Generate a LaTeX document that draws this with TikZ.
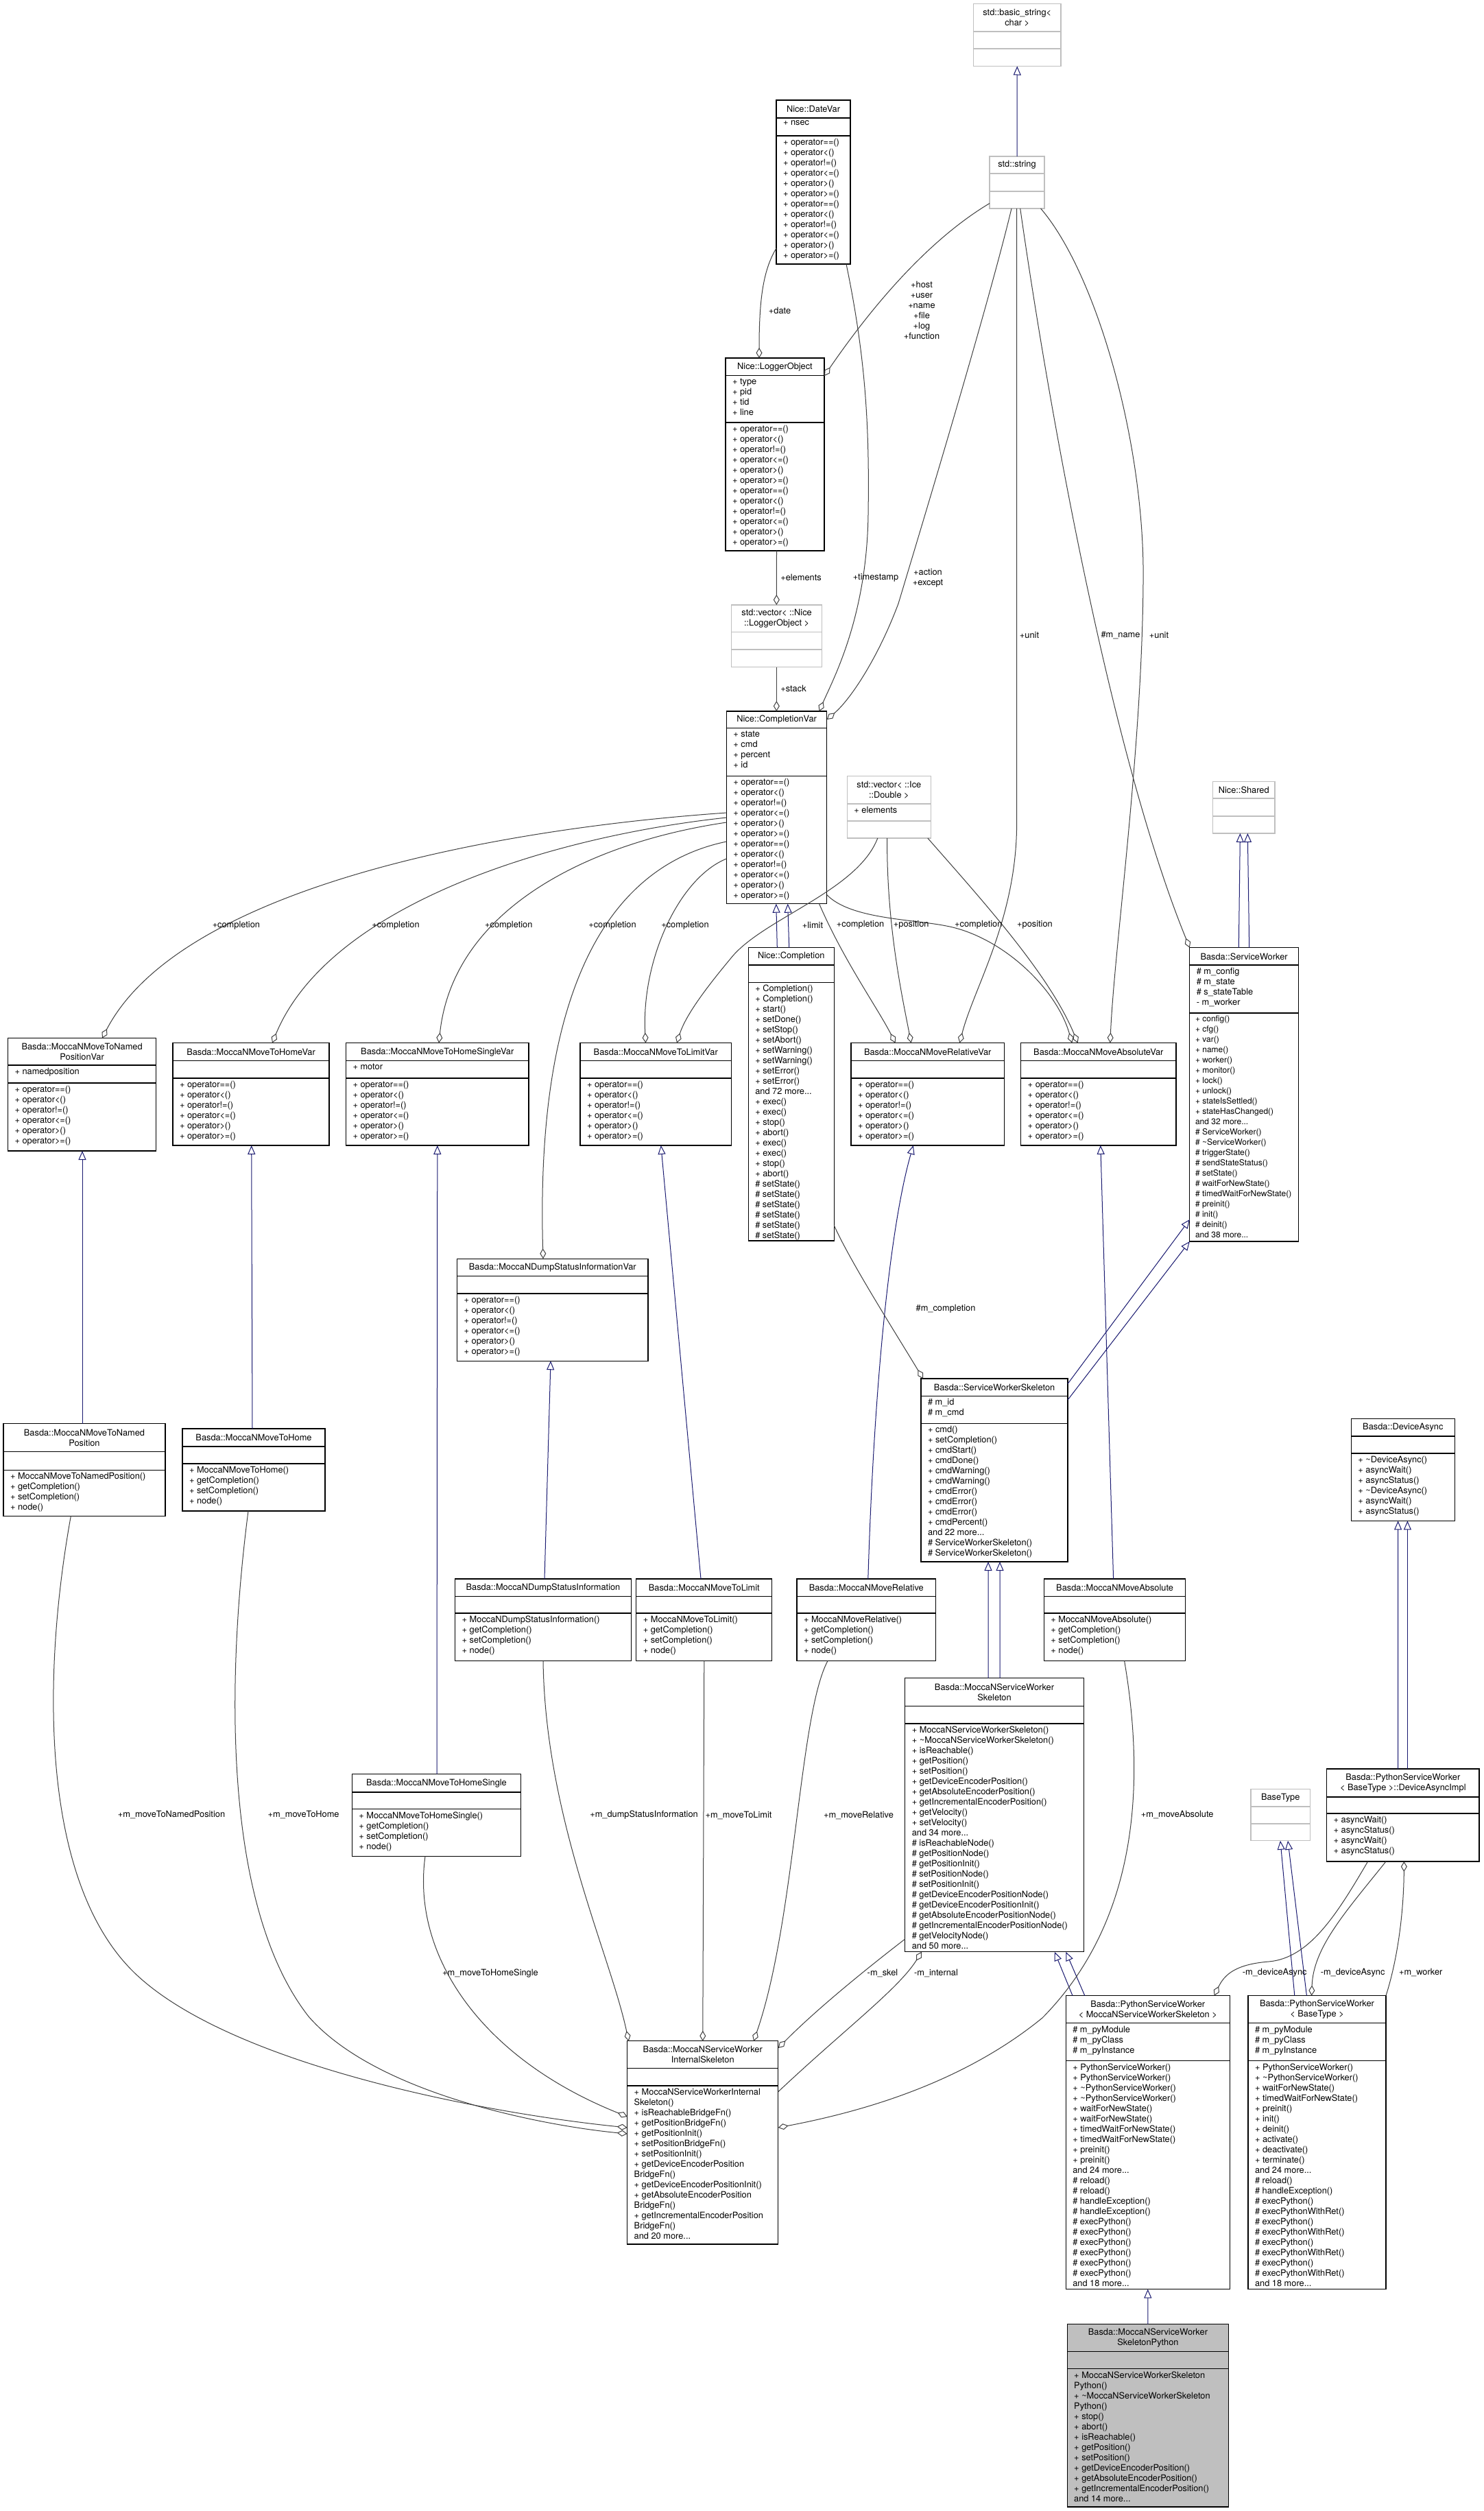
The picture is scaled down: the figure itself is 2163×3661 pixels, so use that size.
\documentclass[tikz,border=0pt]{standalone}
\usepackage{fontspec}
\setmainfont{TeX Gyre Heros}
\usetikzlibrary{arrows.meta,fit}
\definecolor{edgegray}{HTML}{404040}
\definecolor{inhblue}{HTML}{191970}
\definecolor{undocgray}{HTML}{BFBFBF}
\definecolor{curfill}{HTML}{BFBFBF}
\newcommand{\opsix}{+ operator==()\\+ operator<()\\+ operator!=()\\+ operator<=()\\+ operator>()\\+ operator>=()}
\newcommand{\cgsn}{+ getCompletion()\\+ setCompletion()\\+ node()}
\newcommand{\umlbox}[8]{\node[#2, fit={(#3,#4)(#5,#6)}] (#1) {};\draw[#2-sep] (#3,#7) -- (#5,#7) (#3,#8) -- (#5,#8);}
\newcommand{\umltitle}[6]{\node[ttl] (#1-t) at ({(#2+#4)/2},{(#3+#5)/2}) {#6};}
\newcommand{\umlmem}[4]{\node[members] (#1) at ({#2+10},{#3+4}) {#4};}
\tikzset{
 txt/.style={font=\fontsize{6.4}{7.5}\selectfont, inner sep=0pt, outer sep=0pt, text=black},
 members/.style={txt, anchor=north west, align=left},
 ttl/.style={txt, align=center, anchor=center},
 lbl/.style={txt, align=center},
 clsbox/.style={rectangle, draw=black, line width=0.6pt, fill=white, inner sep=0pt, outer sep=0pt},
 clsbox-sep/.style={draw=black, line width=0.6pt},
 undocbox/.style={clsbox, draw=undocgray},
 undocbox-sep/.style={draw=undocgray, line width=0.6pt},
 curbox/.style={clsbox, fill=curfill},
 curbox-sep/.style={clsbox-sep},
 agg/.style={draw=edgegray, line width=0.5pt, -{Diamond[fill=white, length=7.5pt, width=4.5pt]}},
 inh/.style={draw=inhblue, line width=0.5pt, -{Triangle[fill=white, length=6.5pt, width=5.5pt]}},
}
\begin{document}
\begin{tikzpicture}[x=0.5pt,y=-0.5pt]
\fill[white] (0,0) rectangle (2163,3661);
\useasboundingbox (0,0) rectangle (2163,3661);

% ---------------- classes ----------------
\umlbox{bstr}{undocbox}{1419.5}{5.4}{1547}{96.5}{46}{71}
\umltitle{bstr}{1419.5}{5.4}{1547}{46}{std::basic\_string<\\char >}

\umlbox{str}{undocbox}{1443}{228}{1523}{304}{253}{279}
\umltitle{str}{1443}{228}{1523}{253}{std::string}

\umlbox{date}{clsbox}{1132}{146}{1240}{385}{172}{198}
\umltitle{date}{1132}{146}{1240}{172}{Nice::DateVar}
\umlmem{date-a}{1132}{172}{+ nsec}
\umlmem{date-o}{1132}{198}{\opsix\\\opsix}

\umlbox{logobj}{clsbox}{1058}{522}{1202}{803}{547.5}{616}
\umltitle{logobj}{1058}{522}{1202}{547.5}{Nice::LoggerObject}
\umlmem{logobj-a}{1058}{547.5}{+ type\\+ pid\\+ tid\\+ line}
\umlmem{logobj-o}{1058}{616}{\opsix\\\opsix}

\umlbox{vlog}{undocbox}{1066.5}{882}{1198.7}{972.5}{921.6}{947}
\umltitle{vlog}{1066.5}{882}{1198.7}{921.6}{std::vector< ::Nice\\::LoggerObject >}

\umlbox{cvar}{clsbox}{1059.4}{1037}{1205.8}{1317.7}{1061.6}{1131.3}
\umltitle{cvar}{1059.4}{1037}{1205.8}{1061.6}{Nice::CompletionVar}
\umlmem{cvar-a}{1059.4}{1061.6}{+ state\\+ cmd\\+ percent\\+ id}
\umlmem{cvar-o}{1059.4}{1131.3}{\opsix\\\opsix}

\umlbox{vdbl}{undocbox}{1235.4}{1131.7}{1357.3}{1222}{1172}{1197}
\umltitle{vdbl}{1235.4}{1131.7}{1357.3}{1172}{std::vector< ::Ice\\::Double >}
\umlmem{vdbl-a}{1235.4}{1172}{+ elements}

\umlbox{shared}{undocbox}{1768.5}{1139.4}{1858.9}{1215}{1164}{1190}
\umltitle{shared}{1768.5}{1139.4}{1858.9}{1164}{Nice::Shared}

\umlbox{npvar}{clsbox}{11.5}{1513.5}{227.7}{1678}{1553}{1579}
\umltitle{npvar}{11.5}{1513.5}{227.7}{1553}{Basda::MoccaNMoveToNamed\\PositionVar}
\umlmem{npvar-a}{11.5}{1553}{+ namedposition}
\umlmem{npvar-o}{11.5}{1579}{\opsix}

\umlbox{hvar}{clsbox}{252}{1520.5}{480}{1670}{1546.8}{1572}
\umltitle{hvar}{252}{1520.5}{480}{1546.8}{Basda::MoccaNMoveToHomeVar}
\umlmem{hvar-o}{252}{1572}{\opsix}

\umlbox{hsvar}{clsbox}{504.5}{1520.5}{771}{1670}{1546.8}{1572}
\umltitle{hsvar}{504.5}{1520.5}{771}{1546.8}{Basda::MoccaNMoveToHomeSingleVar}
\umlmem{hsvar-a}{504.5}{1546.8}{+ motor}
\umlmem{hsvar-o}{504.5}{1572}{\opsix}

\umlbox{lvar}{clsbox}{846}{1520.5}{1066.5}{1670}{1546.8}{1572}
\umltitle{lvar}{846}{1520.5}{1066.5}{1546.8}{Basda::MoccaNMoveToLimitVar}
\umlmem{lvar-o}{846}{1572}{\opsix}

\umlbox{rvar}{clsbox}{1241}{1520.5}{1464.5}{1670}{1546.8}{1572}
\umltitle{rvar}{1241}{1520.5}{1464.5}{1546.8}{Basda::MoccaNMoveRelativeVar}
\umlmem{rvar-o}{1241}{1572}{\opsix}

\umlbox{avar}{clsbox}{1488.7}{1520.5}{1715}{1670}{1546.8}{1572}
\umltitle{avar}{1488.7}{1520.5}{1715}{1546.8}{Basda::MoccaNMoveAbsoluteVar}
\umlmem{avar-o}{1488.7}{1572}{\opsix}

\umlbox{compl}{clsbox}{1091.3}{1381.6}{1216.3}{1809}{1407}{1432.7}
\umltitle{compl}{1091.3}{1381.6}{1216.3}{1407}{Nice::Completion}
\node[members] (compl-o) at (1101.3,1435.7) {+ Completion()\\+ Completion()\\+ start()\\+ setDone()\\+ setStop()\\+ setAbort()\\+ setWarning()\\+ setWarning()\\+ setError()\\+ setError()\\and 72 more...\\+ exec()\\+ exec()\\+ stop()\\+ abort()\\+ exec()\\+ exec()\\+ stop()\\+ abort()\\\# setState()\\\# setState()\\\# setState()\\\# setState()\\\# setState()\\\# setState()};

\umlbox{sw}{clsbox}{1734.8}{1381.7}{1893.4}{1810}{1407}{1477}
\umltitle{sw}{1734.8}{1381.7}{1893.4}{1407}{Basda::ServiceWorker}
\umlmem{sw-a}{1734.8}{1407}{\# m\_config\\\# m\_state\\\# s\_stateTable\\- m\_worker}
\node[members, font=\fontsize{6.0}{7.5}\selectfont] (sw-o) at (1743,1481) {+ config()\\+ cfg()\\+ var()\\+ name()\\+ worker()\\+ monitor()\\+ lock()\\+ unlock()\\+ stateIsSettled()\\+ stateHasChanged()\\and 32 more...\\\# ServiceWorker()\\\# \textasciitilde ServiceWorker()\\\# triggerState()\\\# sendStateStatus()\\\# setState()\\\# waitForNewState()\\\# timedWaitForNewState()\\\# preinit()\\\# init()\\\# deinit()\\and 38 more...};

\umlbox{sws}{clsbox}{1343}{2010}{1557}{2277}{2035.5}{2075.6}
\umltitle{sws}{1343}{2010}{1557}{2035.5}{Basda::ServiceWorkerSkeleton}
\umlmem{sws-a}{1343}{2035.5}{\# m\_id\\\# m\_cmd}
\umlmem{sws-o}{1343}{2075.6}{+ cmd()\\+ setCompletion()\\+ cmdStart()\\+ cmdDone()\\+ cmdWarning()\\+ cmdWarning()\\+ cmdError()\\+ cmdError()\\+ cmdError()\\+ cmdPercent()\\and 22 more...\\\# ServiceWorkerSkeleton()\\\# ServiceWorkerSkeleton()}

\umlbox{dasync}{clsbox}{1970.4}{2068.8}{2121.2}{2217.4}{2094}{2119}
\umltitle{dasync}{1970.4}{2068.8}{2121.2}{2094}{Basda::DeviceAsync}
\umlmem{dasync-o}{1970.4}{2119}{+ \textasciitilde DeviceAsync()\\+ asyncWait()\\+ asyncStatus()\\+ \textasciitilde DeviceAsync()\\+ asyncWait()\\+ asyncStatus()}

\umlbox{dvar}{clsbox}{666.6}{1835.2}{945}{1984.2}{1860.7}{1886}
\umltitle{dvar}{666.6}{1835.2}{945}{1860.7}{Basda::MoccaNDumpStatusInformationVar}
\umlmem{dvar-o}{666.6}{1886}{\opsix}

\umlbox{np}{clsbox}{5}{2075.7}{241}{2210.6}{2116.5}{2143.4}
\umltitle{np}{5}{2075.7}{241}{2116.5}{Basda::MoccaNMoveToNamed\\Position}
\umlmem{np-o}{5}{2143.4}{+ MoccaNMoveToNamedPosition()\\\cgsn}

\umlbox{home}{clsbox}{266}{2083}{474}{2203}{2109}{2134}
\umltitle{home}{266}{2083}{474}{2109}{Basda::MoccaNMoveToHome}
\umlmem{home-o}{266}{2134}{+ MoccaNMoveToHome()\\\cgsn}

\umlbox{dump}{clsbox}{663.7}{2302}{920.3}{2421.5}{2327.5}{2352}
\umltitle{dump}{663.7}{2302}{920.3}{2327.5}{Basda::MoccaNDumpStatusInformation}
\umlmem{dump-o}{663.7}{2352}{+ MoccaNDumpStatusInformation()\\\cgsn}

\umlbox{lim}{clsbox}{927.8}{2302}{1125.8}{2421.5}{2327.5}{2352}
\umltitle{lim}{927.8}{2302}{1125.8}{2327.5}{Basda::MoccaNMoveToLimit}
\umlmem{lim-o}{927.8}{2352}{+ MoccaNMoveToLimit()\\\cgsn}

\umlbox{rel}{clsbox}{1162}{2302}{1364.6}{2421.5}{2327.5}{2352}
\umltitle{rel}{1162}{2302}{1364.6}{2327.5}{Basda::MoccaNMoveRelative}
\umlmem{rel-o}{1162}{2352}{+ MoccaNMoveRelative()\\\cgsn}

\umlbox{abs}{clsbox}{1522.4}{2302}{1728.8}{2421.5}{2327.5}{2352}
\umltitle{abs}{1522.4}{2302}{1728.8}{2327.5}{Basda::MoccaNMoveAbsolute}
\umlmem{abs-o}{1522.4}{2352}{+ MoccaNMoveAbsolute()\\\cgsn}

\umlbox{msws}{clsbox}{1319.8}{2446.6}{1580.2}{2845.8}{2487.4}{2513}
\umltitle{msws}{1319.8}{2446.6}{1580.2}{2487.4}{Basda::MoccaNServiceWorker\\Skeleton}
\umlmem{msws-o}{1319.8}{2513}{+ MoccaNServiceWorkerSkeleton()\\+ \textasciitilde MoccaNServiceWorkerSkeleton()\\+ isReachable()\\+ getPosition()\\+ setPosition()\\+ getDeviceEncoderPosition()\\+ getAbsoluteEncoderPosition()\\+ getIncrementalEncoderPosition()\\+ getVelocity()\\+ setVelocity()\\and 34 more...\\\# isReachableNode()\\\# getPositionNode()\\\# getPositionInit()\\\# setPositionNode()\\\# setPositionInit()\\\# getDeviceEncoderPositionNode()\\\# getDeviceEncoderPositionInit()\\\# getAbsoluteEncoderPositionNode()\\\# getIncrementalEncoderPositionNode()\\\# getVelocityNode()\\and 50 more...}

\umlbox{hs}{clsbox}{513.4}{2586.6}{759.6}{2706.5}{2613}{2637.6}
\umltitle{hs}{513.4}{2586.6}{759.6}{2613}{Basda::MoccaNMoveToHomeSingle}
\umlmem{hs-o}{513.4}{2637.6}{+ MoccaNMoveToHomeSingle()\\\cgsn}

\umlbox{dai}{clsbox}{1934.6}{2579}{2157}{2714}{2620}{2644}
\umltitle{dai}{1934.6}{2579}{2157}{2620}{Basda::PythonServiceWorker\\< BaseType >::DeviceAsyncImpl}
\umlmem{dai-o}{1934.6}{2644}{+ asyncWait()\\+ asyncStatus()\\+ asyncWait()\\+ asyncStatus()}

\umlbox{btype}{undocbox}{1824}{2608.5}{1910.4}{2683.8}{2634}{2659}
\umltitle{btype}{1824}{2608.5}{1910.4}{2634}{BaseType}

\umlbox{pswm}{clsbox}{1554.3}{2909.6}{1793.2}{3337.6}{2949.8}{3004.6}
\umltitle{pswm}{1554.3}{2909.6}{1793.2}{2949.8}{Basda::PythonServiceWorker\\< MoccaNServiceWorkerSkeleton >}
\umlmem{pswm-a}{1554.3}{2949.8}{\# m\_pyModule\\\# m\_pyClass\\\# m\_pyInstance}
\umlmem{pswm-o}{1554.3}{3004.6}{+ PythonServiceWorker()\\+ PythonServiceWorker()\\+ \textasciitilde PythonServiceWorker()\\+ \textasciitilde PythonServiceWorker()\\+ waitForNewState()\\+ waitForNewState()\\+ timedWaitForNewState()\\+ timedWaitForNewState()\\+ preinit()\\+ preinit()\\and 24 more...\\\# reload()\\\# reload()\\\# handleException()\\\# handleException()\\\# execPython()\\\# execPython()\\\# execPython()\\\# execPython()\\\# execPython()\\\# execPython()\\and 18 more...}

\umlbox{pswb}{clsbox}{1820}{2909.6}{2021}{3337.6}{2949.8}{3004.6}
\umltitle{pswb}{1820}{2909.6}{2021}{2949.8}{Basda::PythonServiceWorker\\< BaseType >}
\umlmem{pswb-a}{1820}{2949.8}{\# m\_pyModule\\\# m\_pyClass\\\# m\_pyInstance}
\umlmem{pswb-o}{1820}{3004.6}{+ PythonServiceWorker()\\+ \textasciitilde PythonServiceWorker()\\+ waitForNewState()\\+ timedWaitForNewState()\\+ preinit()\\+ init()\\+ deinit()\\+ activate()\\+ deactivate()\\+ terminate()\\and 24 more...\\\# reload()\\\# handleException()\\\# execPython()\\\# execPythonWithRet()\\\# execPython()\\\# execPythonWithRet()\\\# execPython()\\\# execPythonWithRet()\\\# execPython()\\\# execPythonWithRet()\\and 18 more...}

\umlbox{internal}{clsbox}{914.7}{2975.8}{1134.8}{3272}{3015.7}{3041}
\umltitle{internal}{914.7}{2975.8}{1134.8}{3015.7}{Basda::MoccaNServiceWorker\\InternalSkeleton}
\umlmem{internal-o}{914.7}{3041}{+ MoccaNServiceWorkerInternal\\Skeleton()\\+ isReachableBridgeFn()\\+ getPositionBridgeFn()\\+ getPositionInit()\\+ setPositionBridgeFn()\\+ setPositionInit()\\+ getDeviceEncoderPosition\\BridgeFn()\\+ getDeviceEncoderPositionInit()\\+ getAbsoluteEncoderPosition\\BridgeFn()\\+ getIncrementalEncoderPosition\\BridgeFn()\\and 20 more...}

\umlbox{py}{curbox}{1556.2}{3388.7}{1791.7}{3655}{3428.5}{3453.7}
\umltitle{py}{1556.2}{3388.7}{1791.7}{3428.5}{Basda::MoccaNServiceWorker\\SkeletonPython}
\umlmem{py-o}{1556.2}{3453.7}{+ MoccaNServiceWorkerSkeleton\\Python()\\+ \textasciitilde MoccaNServiceWorkerSkeleton\\Python()\\+ stop()\\+ abort()\\+ isReachable()\\+ getPosition()\\+ setPosition()\\+ getDeviceEncoderPosition()\\+ getAbsoluteEncoderPosition()\\+ getIncrementalEncoderPosition()\\and 14 more...}

% ---------------- inheritance ----------------
\draw[inh] (str.north) -- (bstr.south);
\draw[inh] ([shift={(42,0)}]compl.north west) -- ([shift={(72.4,0)}]cvar.south west);
\draw[inh] ([shift={(59.4,0)}]compl.north west) -- ([shift={(89.3,0)}]cvar.south west);
\draw[inh] ([shift={(71.5,0)}]sw.north west) -- ([shift={(39.9,0)}]shared.south west);
\draw[inh] ([shift={(86.9,0)}]sw.north west) -- ([shift={(50.8,0)}]shared.south west);
\draw[inh] ([shift={(0,7.5)}]sws.north east) -- ([shift={(0,-32)}]sw.south west);
\draw[inh] ([shift={(0,31)}]sws.north east) -- (sw.south west);
\draw[inh] ([shift={(115,0)}]np.north west) -- ([shift={(108.5,0)}]npvar.south west);
\draw[inh] ([shift={(102,0)}]home.north west) -- ([shift={(114.7,0)}]hvar.south west);
\draw[inh] ([shift={(123.6,0)}]hs.north west) -- ([shift={(133.3,0)}]hsvar.south west);
\draw[inh] ([shift={(130.3,0)}]dump.north west) -- ([shift={(136.4,0)}]dvar.south west);
\draw[inh] ([shift={(94.2,0)}]lim.north west) -- ([shift={(117.8,0)}]lvar.south west);
\draw[inh] ([shift={(103.8,0)}]rel.north west) .. controls (1275,2000) and (1300,1780) .. ([shift={(90.8,0)}]rvar.south west);
\draw[inh] ([shift={(101.2,0)}]abs.north west) -- ([shift={(116.1,0)}]avar.south west);
\draw[inh] ([shift={(121.2,0)}]msws.north west) -- ([shift={(98,0)}]sws.south west);
\draw[inh] ([shift={(138.2,0)}]msws.north west) -- ([shift={(115,0)}]sws.south west);
\draw[inh] ([shift={(104,0)}]dai.north west) -- ([shift={(68.2,0)}]dasync.south west);
\draw[inh] ([shift={(117.8,0)}]dai.north west) -- ([shift={(82,0)}]dasync.south west);
\draw[inh] ([shift={(9.7,0)}]pswm.north west) -- ([shift={(218,0)}]msws.south west);
\draw[inh] ([shift={(27.5,0)}]pswm.north west) -- ([shift={(234.5,0)}]msws.south west);
\draw[inh] ([shift={(67.8,0)}]pswb.north west) -- ([shift={(43,0)}]btype.south west);
\draw[inh] ([shift={(85.4,0)}]pswb.north west) -- ([shift={(54,0)}]btype.south west);
\draw[inh] (py.north) -- (pswm.south);

% ---------------- aggregation ----------------
\draw[agg] ([shift={(0,216)}]date.north west) .. controls (1112,395) and (1107,440) .. ([shift={(49,0)}]logobj.north west);
\draw[agg] ([shift={(102,0)}]date.south west) .. controls (1262,520) and (1268,620) .. (1266,750) .. controls (1264,900) and (1215,990) .. ([shift={(135.2,0)}]cvar.north west);
\draw[agg] ([shift={(0,68.5)}]str.north west) .. controls (1370,340) and (1290,420) .. ([shift={(0,26)}]logobj.north east);
\draw[agg] ([shift={(32,0)}]str.south west) .. controls (1440,450) and (1340,780) .. (1310,880) .. controls (1280,960) and (1240,1020) .. ([shift={(0,12)}]cvar.north east);
\draw[agg] ([shift={(74.5,0)}]logobj.south west) -- ([shift={(65.8,0)}]vlog.north west);
\draw[agg] ([shift={(65.8,0)}]vlog.south west) -- ([shift={(72.9,0)}]cvar.north west);
\draw[agg] ([shift={(39.6,0)}]str.south west) -- (1482.6,1200) .. controls (1482.6,1340) and (1420,1440) .. ([shift={(158.4,0)}]rvar.north west);
\draw[agg] ([shift={(44.7,0)}]str.south west) .. controls (1530,600) and (1620,1100) .. (sw.north west);
\draw[agg] ([shift={(-5.4,0)}]str.south east) .. controls (1600,400) and (1670,650) .. (1667,850) .. controls (1665,1100) and (1625,1380) .. ([shift={(130.1,0)}]avar.north west);
\draw[agg] ([shift={(44.4,0)}]vdbl.south west) .. controls (1250,1300) and (1110,1340) .. (1065,1398) .. controls (1030,1440) and (1000,1480) .. ([shift={(141,0)}]lvar.north west);
\draw[agg] ([shift={(58.2,0)}]vdbl.south west) .. controls (1293,1350) and (1315,1450) .. ([shift={(87.6,0)}]rvar.north west);
\draw[agg] ([shift={(-4.5,0)}]vdbl.south east) .. controls (1430,1310) and (1530,1420) .. ([shift={(82.9,0)}]avar.north west);
\draw[agg] ([shift={(-11.2,0)}]cvar.south east) .. controls (1230,1400) and (1280,1470) .. ([shift={(64.6,0)}]rvar.north west);
\draw[agg] ([shift={(0,-13)}]cvar.south east) .. controls (1240,1340) and (1330,1340) .. (1380,1350) .. controls (1460,1365) and (1540,1440) .. ([shift={(74.6,0)}]avar.north west);
\draw[agg] ([shift={(0,148)}]cvar.north west) .. controls (700,1210) and (260,1300) .. ([shift={(137.5,0)}]npvar.north west);
\draw[agg] ([shift={(0,155)}]cvar.north west) .. controls (800,1220) and (480,1320) .. ([shift={(145,0)}]hvar.north west);
\draw[agg] ([shift={(0,162)}]cvar.north west) .. controls (850,1230) and (660,1330) .. ([shift={(135.5,0)}]hsvar.north west);
\draw[agg] ([shift={(0,190)}]cvar.north west) .. controls (900,1260) and (780,1420) .. ([shift={(125.4,0)}]dvar.north west);
\draw[agg] ([shift={(0,215)}]cvar.north west) .. controls (990,1280) and (935,1400) .. ([shift={(95.5,0)}]lvar.north west);
\draw[agg] ([shift={(0,-22.3)}]compl.south east) .. controls (1240,1840) and (1310,1950) .. ([shift={(3,0)}]sws.north west);
\draw[agg] ([shift={(98.3,0)}]np.south west) .. controls (60,2450) and (60,2750) .. (200,2880) .. controls (340,3010) and (700,3080) .. ([shift={(0,126.2)}]internal.north west);
\draw[agg] ([shift={(96,0)}]home.south west) .. controls (330,2450) and (325,2780) .. (450,2940) .. controls (550,3055) and (800,3100) .. ([shift={(0,135.2)}]internal.north west);
\draw[agg] ([shift={(106.6,0)}]hs.south west) .. controls (600,2850) and (700,3000) .. ([shift={(0,110.2)}]internal.north west);
\draw[agg] ([shift={(128.3,0)}]dump.south west) .. controls (795,2650) and (890,2850) .. ([shift={(2,0)}]internal.north west);
\draw[agg] (lim.south) -- (internal.north);
\draw[agg] ([shift={(45,0)}]rel.south west) .. controls (1165,2500) and (1160,2800) .. ([shift={(184.3,0)}]internal.north west);
\draw[agg] ([shift={(117.2,0)}]abs.south west) .. controls (1670,2600) and (1660,2800) .. (1520,2942) .. controls (1400,3040) and (1250,3080) .. ([shift={(0,126.2)}]internal.north east);
\draw[agg] ([shift={(0,-18.8)}]msws.south west) .. controls (1290,2850) and (1200,2920) .. ([shift={(0,10.2)}]internal.north east);
\draw[agg] ([shift={(0,73.9)}]internal.north east) .. controls (1230,2960) and (1310,2900) .. ([shift={(24.2,0)}]msws.south west);
\draw[agg] ([shift={(60,0)}]dai.south west) .. controls (1950,2790) and (1910,2855) .. (1850,2860) .. controls (1800,2864) and (1785,2880) .. ([shift={(216.3,0)}]pswm.north west);
\draw[agg] ([shift={(86.4,0)}]dai.south west) .. controls (1960,2790) and (1915,2840) .. ([shift={(92.6,0)}]pswb.north west);
\draw[agg] (pswb.north east) .. controls (2040,2850) and (2047,2780) .. ([shift={(112.8,0)}]dai.south west);

% ---------------- labels ----------------
\node[lbl] (l1) at (1137,453) {+date};
\node[lbl] (l2) at (1277,842) {+timestamp};
\node[lbl] (l3) at (1344,452.5) {+host\\+user\\+name\\+file\\+log\\+function};
\node[lbl] (l4) at (1353,843) {+action\\+except};
\node[lbl] (l5) at (1168,842) {+elements};
\node[lbl] (l6) at (1157,1004) {+stack};
\node[lbl] (l7) at (1501,926.5) {+unit};
\node[lbl] (l8) at (1634,926.5) {\#m\_name};
\node[lbl] (l9) at (1690,926.5) {+unit};
\node[lbl] (l10) at (1185,1348.5) {+limit};
\node[lbl] (l11) at (1254.6,1348.5) {+completion};
\node[lbl] (l12) at (1328.7,1348.5) {+position};
\node[lbl] (l13) at (1426.8,1348.5) {+completion};
\node[lbl] (l14) at (1509,1348.5) {+position};
\node[lbl] (l15) at (344.4,1349) {+completion};
\node[lbl] (l16) at (577,1349) {+completion};
\node[lbl] (l17) at (741.8,1349) {+completion};
\node[lbl] (l18) at (893,1349) {+completion};
\node[lbl] (l19) at (999,1349) {+completion};
\node[lbl] (l20) at (1379,1908.7) {\#m\_completion};
\node[lbl] (l21) at (250,2645.7) {+m\_moveToNamedPosition};
\node[lbl] (l22) at (442.6,2645.7) {+m\_moveToHome};
\node[lbl] (l23) at (715,2876.7) {+m\_moveToHomeSingle};
\node[lbl] (l24) at (939,2645.7) {+m\_dumpStatusInformation};
\node[lbl] (l25) at (1077,2647) {+m\_moveToLimit};
\node[lbl] (l26) at (1252,2647) {+m\_moveRelative};
\node[lbl] (l27) at (1716.7,2645.6) {+m\_moveAbsolute};
\node[lbl] (l28) at (1287,2876.7) {-m\_skel};
\node[lbl] (l29) at (1365,2876.7) {-m\_internal};
\node[lbl] (l30) at (1858.7,2876.4) {-m\_deviceAsync};
\node[lbl] (l31) at (1972.6,2876.4) {-m\_deviceAsync};
\node[lbl] (l32) at (2071.7,2876.4) {+m\_worker};
\end{tikzpicture}
\end{document}
